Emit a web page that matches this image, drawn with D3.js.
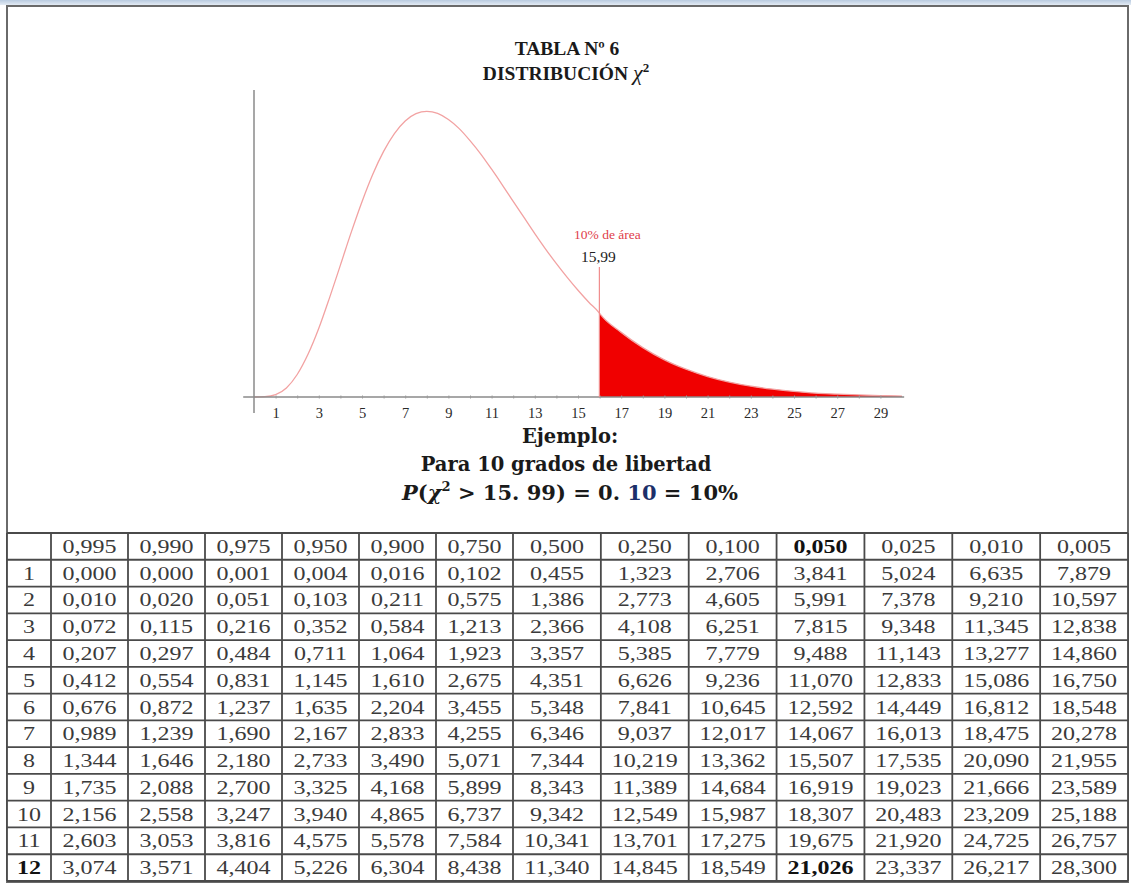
<!DOCTYPE html>
<html>
<head>
<meta charset="utf-8">
<script src="https://cdn.jsdelivr.net/npm/d3@7"></script>
<style>
  body { margin: 0; background: #fff; }
  svg { display: block; }
</style>
</head>
<body>
<svg id="chart"></svg>
<script>
// chi-square density, 10 degrees of freedom
const curveX = [0, 0.5, 1, 1.5, 2, 2.5, 3, 3.5, 4, 4.5, 5, 5.5, 6, 6.5, 7, 7.5, 8, 8.5, 9, 9.5, 10,
  10.5, 11, 11.5, 12, 12.5, 13, 13.5, 14, 14.5, 15, 15.5, 15.99, 16, 17, 18, 19, 20, 21, 22, 23, 24,
  25, 26, 27, 28, 29, 30];
const curveY = [0, 0.0001, 0.0008, 0.0031, 0.0077, 0.0146, 0.0235, 0.0340, 0.0451, 0.0563, 0.0668,
  0.0762, 0.0840, 0.0901, 0.0944, 0.0969, 0.0977, 0.0970, 0.0949, 0.0918, 0.0877, 0.0831, 0.0779,
  0.0725, 0.0669, 0.0614, 0.0559, 0.0506, 0.0456, 0.0409, 0.0365, 0.0324, 0.0287, 0.0286, 0.0221,
  0.0169, 0.0127, 0.0095, 0.0070, 0.0051, 0.0037, 0.0027, 0.0019, 0.0013, 0.0010, 0.0007, 0.0005,
  0.0003];
const critValue = 15.99;
const tickLabels = [1, 3, 5, 7, 9, 11, 13, 15, 17, 19, 21, 23, 25, 27, 29];

// table
const probs = ["0,995", "0,990", "0,975", "0,950", "0,900", "0,750", "0,500", "0,250", "0,100",
  "0,050", "0,025", "0,010", "0,005"];
const dfs = [1, 2, 3, 4, 5, 6, 7, 8, 9, 10, 11, 12];
const critical = [
  [0.000, 0.000, 0.001, 0.004, 0.016, 0.102, 0.455, 1.323, 2.706, 3.841, 5.024, 6.635, 7.879],
  [0.010, 0.020, 0.051, 0.103, 0.211, 0.575, 1.386, 2.773, 4.605, 5.991, 7.378, 9.210, 10.597],
  [0.072, 0.115, 0.216, 0.352, 0.584, 1.213, 2.366, 4.108, 6.251, 7.815, 9.348, 11.345, 12.838],
  [0.207, 0.297, 0.484, 0.711, 1.064, 1.923, 3.357, 5.385, 7.779, 9.488, 11.143, 13.277, 14.860],
  [0.412, 0.554, 0.831, 1.145, 1.610, 2.675, 4.351, 6.626, 9.236, 11.070, 12.833, 15.086, 16.750],
  [0.676, 0.872, 1.237, 1.635, 2.204, 3.455, 5.348, 7.841, 10.645, 12.592, 14.449, 16.812, 18.548],
  [0.989, 1.239, 1.690, 2.167, 2.833, 4.255, 6.346, 9.037, 12.017, 14.067, 16.013, 18.475, 20.278],
  [1.344, 1.646, 2.180, 2.733, 3.490, 5.071, 7.344, 10.219, 13.362, 15.507, 17.535, 20.090, 21.955],
  [1.735, 2.088, 2.700, 3.325, 4.168, 5.899, 8.343, 11.389, 14.684, 16.919, 19.023, 21.666, 23.589],
  [2.156, 2.558, 3.247, 3.940, 4.865, 6.737, 9.342, 12.549, 15.987, 18.307, 20.483, 23.209, 25.188],
  [2.603, 3.053, 3.816, 4.575, 5.578, 7.584, 10.341, 13.701, 17.275, 19.675, 21.920, 24.725, 26.757],
  [3.074, 3.571, 4.404, 5.226, 6.304, 8.438, 11.340, 14.845, 18.549, 21.026, 23.337, 26.217, 28.300]
];

const W = 1131, H = 883;
const svg = d3.select("#chart").attr("width", W).attr("height", H);

// window strip and frame
const grad = svg.append("defs").append("linearGradient")
  .attr("id", "topbar").attr("x1", 0).attr("x2", 0).attr("y1", 0).attr("y2", 1);
grad.append("stop").attr("offset", 0).attr("stop-color", "#b9cbe0");
grad.append("stop").attr("offset", 1).attr("stop-color", "#e3ebf4");
svg.append("rect").attr("x", 0).attr("y", 0).attr("width", W).attr("height", 5)
  .attr("fill", "url(#topbar)");
svg.append("rect").attr("x", 7).attr("y", 6).attr("width", 1121).attr("height", 876)
  .attr("fill", "none").attr("stroke", "#6a6a6a").attr("stroke-width", 2);

// title
const title = svg.append("g").attr("font-family", "Liberation Serif, serif")
  .attr("font-weight", "bold").attr("fill", "#1a1a1a").attr("text-anchor", "middle");
title.append("text").attr("x", 567).attr("y", 55).attr("font-size", 19.5).text("TABLA Nº 6");
const t2 = title.append("text").attr("x", 566).attr("y", 80).attr("font-size", 19.5);
t2.append("tspan").text("DISTRIBUCIÓN ");
t2.append("tspan").attr("font-style", "italic").attr("font-weight", "normal")
  .attr("font-size", 22).text("χ");
t2.append("tspan").attr("dy", -8).attr("font-size", 13).text("2");

// chart
const x = d3.scaleLinear().domain([0, 30]).range([254, 902]);
const y = d3.scaleLinear().domain([0, 0.105]).range([397, 90]);
const pts = curveX.map((v, i) => ({ x: v, y: curveY[i] }));

const tail = pts.filter(d => d.x >= critValue);
svg.append("path")
  .datum(tail)
  .attr("fill", "#f00000")
  .attr("d", d3.area().x(d => x(d.x)).y0(y(0)).y1(d => y(d.y)).curve(d3.curveMonotoneX));

svg.append("path")
  .datum(pts)
  .attr("fill", "none")
  .attr("stroke", "#f2a2a2")
  .attr("stroke-width", 1.3)
  .attr("d", d3.line().x(d => x(d.x)).y(d => y(d.y)).curve(d3.curveMonotoneX));

// axes
svg.append("line")
  .attr("x1", x(-0.5)).attr("x2", x(30.1)).attr("y1", y(0)).attr("y2", y(0))
  .attr("stroke", "#8a8a8a").attr("stroke-width", 1.3);
svg.append("line")
  .attr("x1", x(0)).attr("x2", x(0)).attr("y1", y(0.105)).attr("y2", y(0) + 16)
  .attr("stroke", "#8a8a8a").attr("stroke-width", 1.5);

const xAxis = d3.axisBottom(x)
  .tickValues(d3.range(1, 30))
  .tickSize(3)
  .tickFormat(d => tickLabels.includes(d) ? d : "");
const gx = svg.append("g")
  .attr("transform", `translate(0, ${y(0) - 1.5})`)
  .call(xAxis);
gx.select(".domain").remove();
gx.selectAll(".tick line").attr("stroke", "#9a9a9a");
gx.selectAll(".tick text")
  .attr("font-family", "Liberation Serif, serif")
  .attr("font-size", 14.5)
  .attr("fill", "#2a2a2a")
  .attr("y", 12);

// critical value marker
svg.append("line")
  .attr("x1", x(critValue)).attr("x2", x(critValue))
  .attr("y1", y(0)).attr("y2", 267)
  .attr("stroke", "#f08c8c").attr("stroke-width", 1.2);
svg.append("text")
  .attr("x", x(critValue) + 8).attr("y", 239)
  .attr("text-anchor", "middle")
  .attr("font-family", "Liberation Serif, serif").attr("font-size", 13.5)
  .attr("fill", "#e0404a")
  .text("10% de área");
svg.append("text")
  .attr("x", x(critValue) - 1).attr("y", 262)
  .attr("text-anchor", "middle")
  .attr("font-family", "Liberation Serif, serif").attr("font-size", 15.5)
  .attr("fill", "#222")
  .text("15,99");

// example text
const ex = svg.append("g").attr("font-family", "DejaVu Serif, serif")
  .attr("font-weight", "bold").attr("fill", "#1a1a1a").attr("text-anchor", "middle");
ex.append("text").attr("x", 570).attr("y", 443).attr("font-size", 19.5).text("Ejemplo:");
ex.append("text").attr("x", 566).attr("y", 471).attr("font-size", 19.5).text("Para 10 grados de libertad");
const f = ex.append("text").attr("x", 570).attr("y", 500).attr("font-size", 21);
f.append("tspan").attr("font-style", "italic").text("P");
f.append("tspan").text("(");
f.append("tspan").attr("font-style", "italic").text("χ");
f.append("tspan").attr("dy", -9).attr("font-size", 13).text("2");
f.append("tspan").attr("dy", 9).text(" > 15. 99) = 0. ");
f.append("tspan").attr("fill", "#1c2f6a").text("10");
f.append("tspan").text(" = 10%");

// table
const rowKeys = ["h"].concat(dfs);
const row = d3.scaleBand().domain(rowKeys).range([533, 881]);
const colA = d3.scaleBand().domain(probs.slice(0, 6)).range([51, 513]);
const colB = d3.scaleBand().domain(probs.slice(6)).range([513, 1128]);
const colX = p => (colA.domain().includes(p) ? colA(p) : colB(p));
const colW = p => (colA.domain().includes(p) ? colA.bandwidth() : colB.bandwidth());
const left = 7, right = 1128;
const fmt = v => d3.format(".3f")(v).replace(".", ",");

const table = svg.append("g");
table.append("rect").attr("x", left).attr("y", row.range()[0])
  .attr("width", right - left).attr("height", row.range()[1] - row.range()[0])
  .attr("fill", "#fff");

const cells = [];
probs.forEach((p, j) => cells.push({ x: colX(p) + colW(p) / 2, y: row("h"), t: p, b: p === "0,050" }));
dfs.forEach((d, i) => {
  cells.push({ x: (left + colA.range()[0]) / 2, y: row(d), t: String(d), b: d === 12 });
  probs.forEach((p, j) => cells.push({
    x: colX(p) + colW(p) / 2, y: row(d), t: fmt(critical[i][j]), b: d === 12 && p === "0,050"
  }));
});

table.selectAll("text.cell")
  .data(cells)
  .enter()
  .append("text")
  .attr("class", "cell")
  .attr("transform", d => `translate(${d.x}, ${d.y + row.bandwidth() / 2 + 6.5}) scale(1.3, 1)`)
  .attr("text-anchor", "middle")
  .attr("font-family", "Liberation Serif, serif")
  .attr("font-size", 18.5)
  .attr("font-weight", d => d.b ? "bold" : "normal")
  .attr("fill", d => d.b ? "#111" : "#3a3a3a")
  .text(d => d.t);

// grid
const hLines = rowKeys.map(k => row(k)).concat([row.range()[1]]);
table.selectAll("line.h")
  .data(hLines)
  .enter()
  .append("line")
  .attr("x1", left).attr("x2", right)
  .attr("y1", d => d).attr("y2", d => d)
  .attr("stroke", "#4a4a4a").attr("stroke-width", 1.8);
const vLines = [left, colA.range()[0]].concat(probs.map(p => colX(p) + colW(p)));
table.selectAll("line.v")
  .data(vLines)
  .enter()
  .append("line")
  .attr("x1", d => d).attr("x2", d => d)
  .attr("y1", row.range()[0]).attr("y2", row.range()[1])
  .attr("stroke", "#4a4a4a").attr("stroke-width", 1.8);
</script>
</body>
</html>
